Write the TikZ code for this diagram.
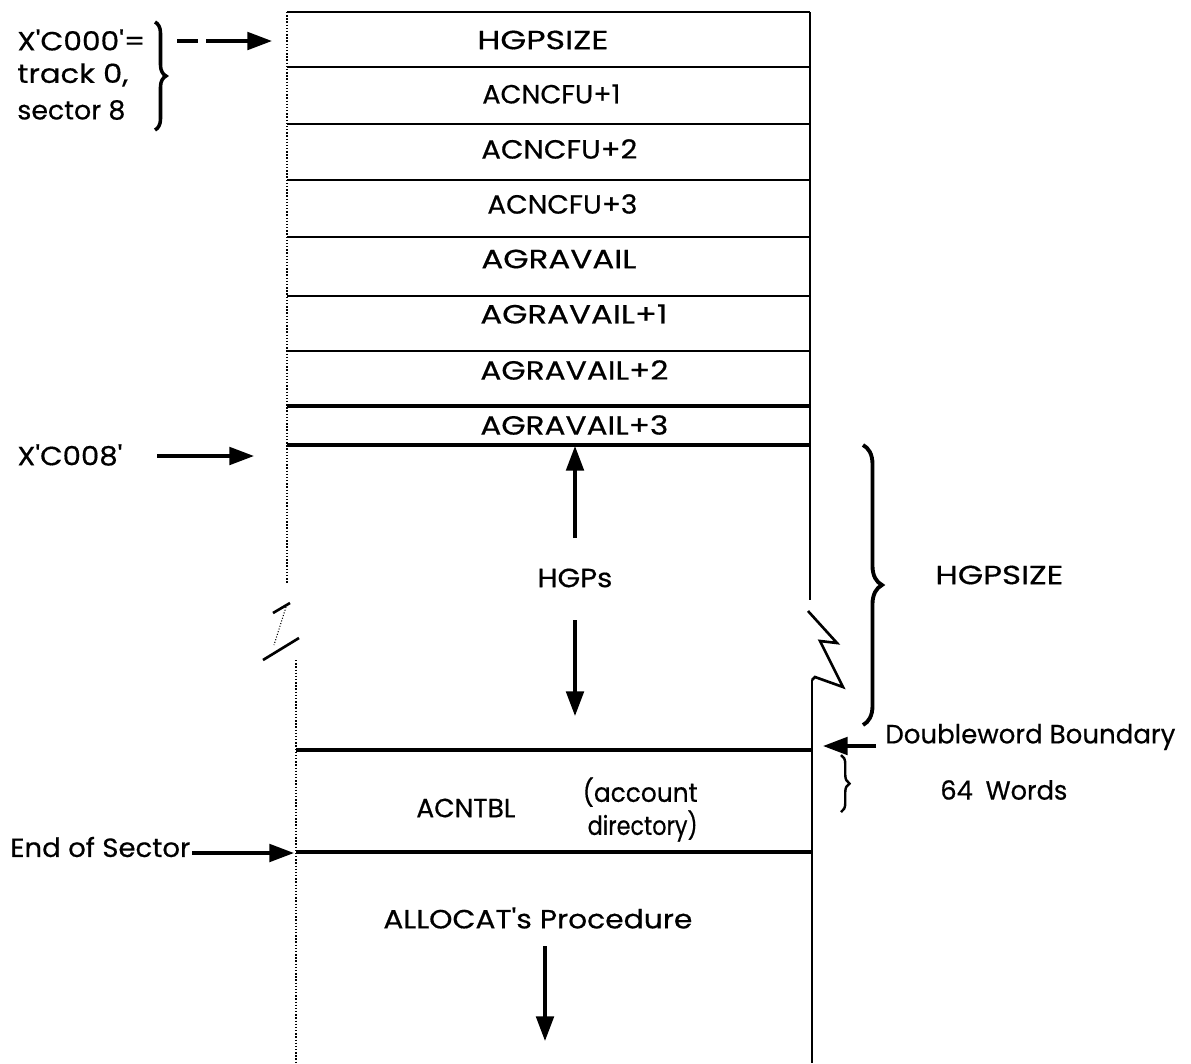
\documentclass[tikz,border=0pt]{standalone}
\usepackage{fontspec}
\setmainfont{Poppins}[Ligatures=TeXOff, FakeBold=0.5]
\usetikzlibrary{arrows.meta,decorations.pathreplacing}
% set a label to a given width (in picture units of 0.02cm), keeping its height
\newcommand\fitw[2]{\resizebox{\dimexpr 0.02cm*#1\relax}{\height}{#2}}
\begin{document}
\begin{tikzpicture}[x=0.02cm,y=-0.02cm,
  lbl/.style={font=\fontsize{15}{18}\selectfont, inner sep=0pt},
  side/.style={lbl, anchor=west},
  rule/.style={line width=1.1pt},
  heavy/.style={line width=1.8pt},
  wall/.style={line width=0.9pt},
  faint/.style={line width=0.8pt, densely dotted},
  ptr/.style={line width=1.9pt, -{Triangle[length=14pt,width=10pt]}},
  curly/.style={decorate, line width=2pt},
  brk/.style={line width=1.5pt, line join=miter},
]
\useasboundingbox (0,0) rectangle (1191,1063);

% ---- upper block: the word table
\draw[faint] (287,12) -- (287,583);
\draw[wall] (810,12) -- (810,600);
\draw[rule] (287,12) -- (810,12);
\foreach \y in {67,124,180,237,296,351} \draw[rule] (287,\y) -- (810,\y);
\draw[heavy] (287,406) -- (810,406);
\draw[heavy] (287,445) -- (810,445);

\node[side] (w0) at (477,40)  {\fitw{131}{HGPSIZE}};
\node[side] (w1) at (482,94)  {\fitw{138}{ACNCFU+1}};
\node[side] (w2) at (481,149) {\fitw{156}{ACNCFU+2}};
\node[side] (w3) at (487,204) {\fitw{150}{ACNCFU+3}};
\node[side] (w4) at (481,259) {\fitw{155}{AGRAVAIL}};
\node[side] (w5) at (480,314) {\fitw{187}{AGRAVAIL+1}};
\node[side] (w6) at (480,370) {\fitw{188}{AGRAVAIL+2}};
\node[side] (w7) at (480,425) {\fitw{188}{AGRAVAIL+3}};

% ---- break marks
\draw[brk] (273,613) -- (290,603);
\draw[line width=0.6pt, densely dotted] (286,607) -- (274,645);
\draw[brk] (263,660) -- (299,638);
\draw[brk] (808,611) -- (837,643) -- (820,641) -- (843,687) -- (815,677) -- (812,680);

% ---- lower block
\draw[faint] (296,660) -- (296,1063);
\draw[wall] (812,680) -- (812,1063);
\draw[heavy] (296,750) -- (812,750);
\draw[heavy] (296,852) -- (812,852);

% ---- HGP area
\node[side] (hgps) at (537,578) {\fitw{75}{HGPs}};
\coordinate (hgpUp) at (575,538);
\coordinate (hgpTop) at (575,446);
\coordinate (hgpDn) at (575,620);
\coordinate (hgpBot) at (575,716);
\draw[ptr] (hgpUp) -- (hgpTop);
\draw[ptr] (hgpDn) -- (hgpBot);

\coordinate (brTop) at (863,445);
\coordinate (brBot) at (863,725);
\draw[curly, line width=2.2pt, decoration={brace, amplitude=0.38cm}] (brTop) -- (brBot);
\node[side] (hgpsize) at (935,575) {\fitw{128}{HGPSIZE}};

% ---- account directory
\node[side] (acntbl) at (416,808) {\fitw{99}{ACNTBL}};
\node[lbl, anchor=east] (acc1) at (698,792) {\fitw{115}{(account}};
\node[lbl, anchor=east] (acc2) at (698,826) {\fitw{110}{directory)}};

\node[side] (dwb) at (885,737) {\fitw{290}{Doubleword Boundary}};
\coordinate (dwTail) at (876,746);
\coordinate (dwTip) at (823,746);
\draw[ptr] (dwTail) -- (dwTip);
\coordinate (sbTop) at (841,755);
\coordinate (sbBot) at (841,812);
\draw[curly, line width=1.4pt, decoration={brace, amplitude=0.17cm}] (sbTop) -- (sbBot);
\node[side] (words) at (940,790) {\fitw{127}{64\hspace{0.5em}Words}};

% ---- procedure area
\node[side] (proc) at (383,918) {\fitw{309}{ALLOCAT's Procedure}};
\coordinate (prTail) at (545,946);
\coordinate (prTip) at (545,1041);
\draw[ptr] (prTail) -- (prTip);

% ---- address labels on the left
\node[side] (addr0) at (17,40)  {\fitw{128}{X'C000'=}};
\node[side] (trk)   at (17,75)  {\fitw{111}{track 0,}};
\node[side] (sec)   at (17,110) {\fitw{108}{sector 8}};
\coordinate (lbTop) at (155,22);
\coordinate (lbBot) at (155,130);
\draw[curly, decoration={brace, amplitude=0.22cm}] (lbTop) -- (lbBot);
\coordinate (a0Tail) at (177,41);
\coordinate (a0Gap) at (198,41);
\coordinate (a0Mid) at (206,41);
\coordinate (a0Tip) at (272,41);
\draw[line width=1.9pt] (a0Tail) -- (a0Gap);
\draw[ptr] (a0Mid) -- (a0Tip);

\node[side] (addr8) at (17,455) {\fitw{105}{X'C008'}};
\coordinate (a8Tail) at (157,456);
\coordinate (a8Tip) at (254,456);
\draw[ptr] (a8Tail) -- (a8Tip);

\node[side] (eos) at (10,847) {\fitw{180}{End of Sector}};
\coordinate (eTail) at (192,853);
\coordinate (eTip) at (294,853);
\draw[ptr] (eTail) -- (eTip);
\end{tikzpicture}
\end{document}
